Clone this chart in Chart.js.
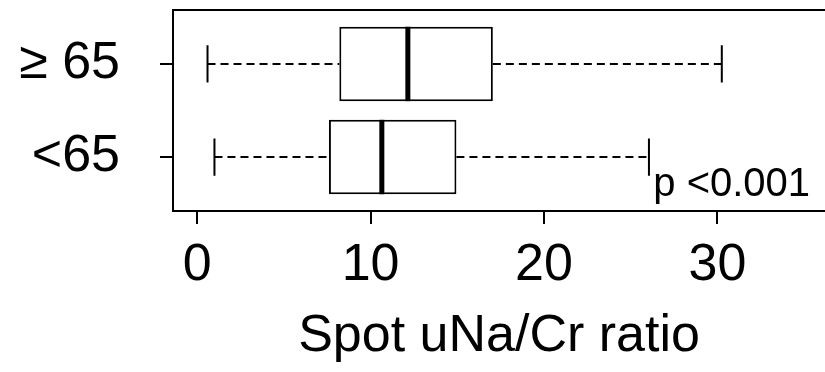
<!DOCTYPE html>
<html>
<head>
<meta charset="utf-8">
<script src="https://cdn.jsdelivr.net/npm/chart.js@4/dist/chart.umd.min.js"></script>
<style>
    html, body { margin: 0; padding: 0; background: #fff; overflow: hidden; }
    #wrap { width: 825px; height: 372px; }
</style>
</head>
<body>
<div id="wrap"><canvas id="boxChart" width="825" height="372"></canvas></div>
<script>
"use strict";
// groups, bottom to top (as R draws horizontal boxplots)
const categories = ['<65', '\u2265 65'];
const positions = [1, 2];
const whiskerLow = [1.0, 0.6];
const q1 = [7.6, 8.2];
const medians = [10.65, 12.15];
const q3 = [14.95, 17.05];
const whiskerHigh = [26.05, 30.25];
const xTicks = [0, 10, 20, 30];
const xTitle = 'Spot uNa/Cr ratio';
const pLabel = 'p <0.001';
const pLabelAt = { x: 26.3, y: 0.58 };

const FONT = "'Liberation Sans', Arial, sans-serif";
const LINE = 2;

const boxExtras = {
    id: 'boxExtras',
    afterDatasetsDraw(chart) {
        const { ctx, chartArea, scales } = chart;
        const x = scales.x;
        const y = scales.y;
        const meta = chart.getDatasetMeta(0);
        ctx.save();
        ctx.strokeStyle = '#000';
        ctx.lineCap = 'butt';
        positions.forEach((pos, i) => {
            const cy = y.getPixelForValue(pos);
            const half = meta.data[i].height / 2;
            const capHalf = half / 2;
            // dashed whiskers
            ctx.lineWidth = LINE;
            ctx.setLineDash([8, 5]);
            ctx.beginPath();
            ctx.moveTo(x.getPixelForValue(whiskerLow[i]), cy);
            ctx.lineTo(x.getPixelForValue(q1[i]), cy);
            ctx.moveTo(x.getPixelForValue(q3[i]), cy);
            ctx.lineTo(x.getPixelForValue(whiskerHigh[i]), cy);
            ctx.stroke();
            // staples
            ctx.setLineDash([]);
            ctx.beginPath();
            [whiskerLow[i], whiskerHigh[i]].forEach((v) => {
                const px = x.getPixelForValue(v);
                ctx.moveTo(px, cy - capHalf);
                ctx.lineTo(px, cy + capHalf);
            });
            ctx.stroke();
            // median
            ctx.lineWidth = 5;
            ctx.beginPath();
            const mx = x.getPixelForValue(medians[i]);
            ctx.moveTo(mx, cy - half);
            ctx.lineTo(mx, cy + half);
            ctx.stroke();
        });
        // frame: left, top, bottom (right side falls outside the picture)
        ctx.lineWidth = LINE;
        ctx.beginPath();
        ctx.moveTo(chartArea.right + 2, chartArea.top);
        ctx.lineTo(chartArea.left, chartArea.top);
        ctx.lineTo(chartArea.left, chartArea.bottom);
        ctx.lineTo(chartArea.right + 2, chartArea.bottom);
        ctx.stroke();
        // p value note
        ctx.fillStyle = '#000';
        ctx.font = `40px ${FONT}`;
        ctx.textAlign = 'left';
        ctx.textBaseline = 'alphabetic';
        ctx.fillText(pLabel, x.getPixelForValue(pLabelAt.x), y.getPixelForValue(pLabelAt.y));
        ctx.restore();
    }
};

const ctx = document.getElementById('boxChart');
new Chart(ctx, {
    type: 'bar',
    data: {
        datasets: [
            {
                data: positions.map((p, i) => ({ x: [q1[i], q3[i]], y: p })),
                backgroundColor: '#fff',
                borderColor: '#000',
                borderWidth: LINE,
                borderSkipped: false,
                barPercentage: 0.8,
                categoryPercentage: 1
            }
        ]
    },
    options: {
        indexAxis: 'y',
        responsive: false,
        animation: false,
        events: [],
        layout: {
            padding: { top: 10, right: 0, left: 0, bottom: 0 }
        },
        plugins: {
            legend: { display: false },
            tooltip: { enabled: false }
        },
        scales: {
            x: {
                type: 'linear',
                min: -1.39,
                max: 36.2,
                afterBuildTicks(scale) {
                    scale.ticks = xTicks.map((v) => ({ value: v }));
                },
                afterFit(scale) {
                    scale.height = 161;
                    scale.paddingLeft = 0;
                    scale.paddingRight = 0;
                },
                border: { display: false },
                grid: {
                    drawOnChartArea: false,
                    drawTicks: true,
                    tickLength: 13,
                    color: '#000',
                    lineWidth: LINE
                },
                ticks: {
                    color: '#000',
                    padding: 10,
                    maxRotation: 0,
                    font: { family: FONT, size: 52 }
                },
                title: {
                    display: true,
                    text: xTitle,
                    color: '#000',
                    padding: { top: 0, bottom: 4 },
                    font: { family: FONT, size: 52 }
                }
            },
            y: {
                type: 'linear',
                offset: false,
                min: 0.42,
                max: 2.58,
                afterBuildTicks(scale) {
                    scale.ticks = positions.map((v) => ({ value: v }));
                },
                afterFit(scale) {
                    scale.width = 173;
                    scale.paddingTop = 0;
                    scale.paddingBottom = 0;
                },
                border: { display: false },
                grid: {
                    offset: false,
                    drawOnChartArea: false,
                    drawTicks: true,
                    tickLength: 13,
                    color: '#000',
                    lineWidth: LINE
                },
                ticks: {
                    color: '#000',
                    padding: 40,
                    font: { family: FONT, size: 52 },
                    callback: (v) => categories[positions.indexOf(v)]
                }
            }
        }
    },
    plugins: [boxExtras]
});
</script>
</body>
</html>
